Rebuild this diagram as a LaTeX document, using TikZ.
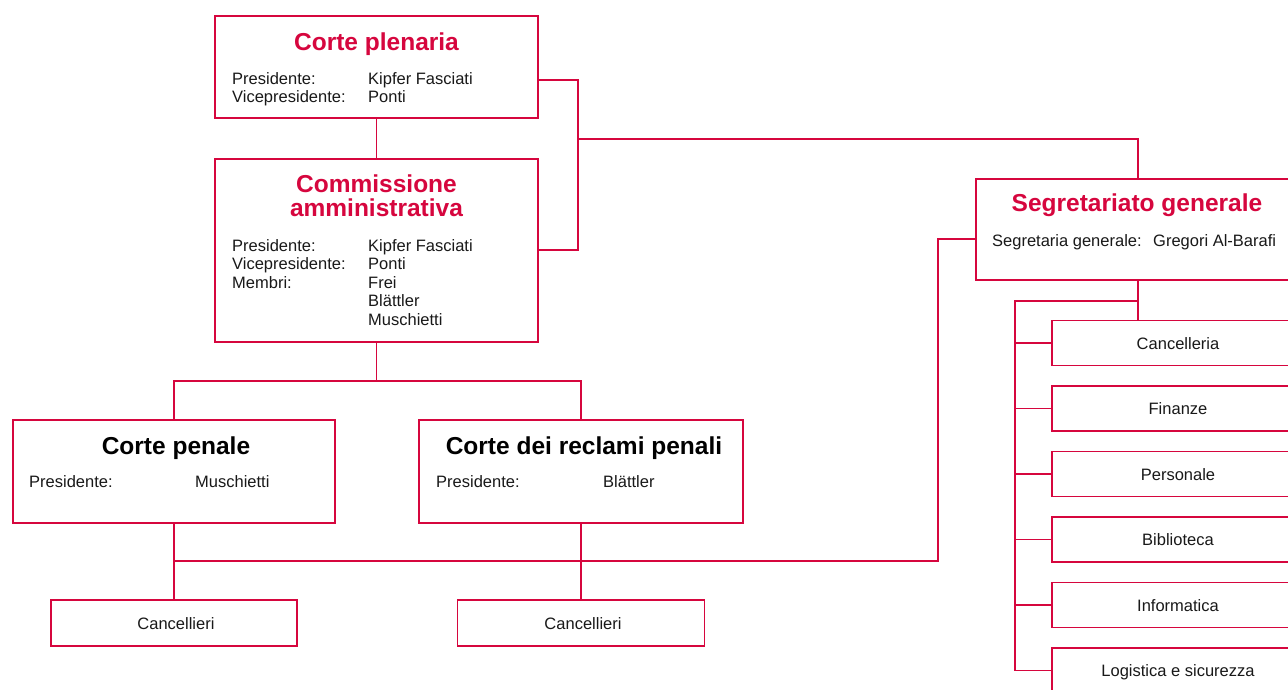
\documentclass[tikz,border=0pt]{standalone}
\usepackage{fontspec}
\setmainfont{Liberation Sans}
\definecolor{crim}{RGB}{214,6,62}
\definecolor{ink}{RGB}{25,25,25}
\begin{document}
\begin{tikzpicture}[x=1pt,y=-1pt,
  bigbox/.style={draw=crim,line width=2.6pt,rectangle,inner sep=0pt,fill=white},
  smallbox/.style={draw=crim,line width=1.5pt,rectangle,inner sep=0pt,fill=white},
  conn/.style={draw=crim,line width=1.2pt},
  ttl/.style={font=\fontsize{24.5}{26}\selectfont\bfseries,text=crim,anchor=base,inner sep=0pt},
  ttlk/.style={ttl,text=black},
  txt/.style={font=\fontsize{16.5}{18.5}\selectfont,anchor=base west,inner sep=0pt,text=ink},
  ctxt/.style={txt,anchor=base}]
\useasboundingbox (0,0) rectangle (1288,689);
\clip (0,0) rectangle (1288,689);

% ---------- boxes ----------
\node[bigbox,minimum width=323pt,minimum height=102pt] (plen) at (376.5,67) {};
\node[bigbox,minimum width=323pt,minimum height=183pt] (comm) at (376.5,250.5) {};
\node[bigbox,minimum width=322pt,minimum height=103pt] (pen) at (174,471.5) {};
\node[bigbox,minimum width=324pt,minimum height=103pt] (recl) at (581,471.5) {};
\node[smallbox,minimum width=246pt,minimum height=46pt] (canc1) at (174,623) {};
\node[smallbox,minimum width=247pt,minimum height=46pt] (canc2) at (581,623) {};
\node[bigbox,minimum width=324pt,minimum height=101pt] (segr) at (1138,229.5) {};
\foreach \n/\y in {s1/343,s2/408.5,s3/474,s4/539.5,s5/605,s6/670.5}
  \node[smallbox,minimum width=252pt,minimum height=45pt] (\n) at (1178,\y) {};

% ---------- texts ----------
\node[ttl] (plent) at (376.5,50) {Corte plenaria};
\node[txt] (plenl1) at (232,84) {Presidente:};
\node[txt] (plenv1) at (368,84) {Kipfer Fasciati};
\node[txt] (plenl2) at (232,102) {Vicepresidente:};
\node[txt] (plenv2) at (368,102) {Ponti};

\node[ttl] (commt1) at (376.5,192.5) {Commissione};
\node[ttl] (commt2) at (376.5,216.5) {amministrativa};
\node[txt] (comml1) at (232,251) {Presidente:};
\node[txt] (commv1) at (368,251) {Kipfer Fasciati};
\node[txt] (comml2) at (232,269.5) {Vicepresidente:};
\node[txt] (commv2) at (368,269.5) {Ponti};
\node[txt] (comml3) at (232,288) {Membri:};
\node[txt] (commv3) at (368,288) {Frei};
\node[txt] (commv4) at (368,306.5) {Blättler};
\node[txt] (commv5) at (368,325) {Muschietti};

\node[ttlk] (pent) at (176,454) {Corte penale};
\node[txt] (penl) at (29,487) {Presidente:};
\node[txt] (penv) at (195,487) {Muschietti};

\node[ttlk] (reclt) at (584,454) {Corte dei reclami penali};
\node[txt] (recll) at (436,487) {Presidente:};
\node[txt] (reclv) at (603,487) {Blättler};

\node[ctxt] (canc1t) at (176,629) {Cancellieri};
\node[ctxt] (canc2t) at (583,629) {Cancellieri};

\node[ttl] (segrt) at (1137,211.5) {Segretariato generale};
\node[txt] (segrl) at (992,246) {Segretaria generale:};
\node[txt] (segrv) at (1153,246) {Gregori Al-Barafi};

\node[ctxt] (s1t) at (1178,349) {Cancelleria};
\node[ctxt] (s2t) at (1178,414.5) {Finanze};
\node[ctxt] (s3t) at (1178,480) {Personale};
\node[ctxt] (s4t) at (1178,545.5) {Biblioteca};
\node[ctxt] (s5t) at (1178,611) {Informatica};
\node[ctxt] (s6t) at (1178,676.5) {Logistica e sicurezza};

% ---------- junctions ----------
\coordinate (j1) at (578,80);
\coordinate (j2) at (578,250);
\coordinate (j3) at (578,139);
\coordinate (j4) at (376.5,381);
\coordinate (j5) at (938,561);
\coordinate (j6) at (938,239);
\coordinate (j7) at (1015,301);

% ---------- connectors ----------
\draw[conn] (plen.south) -- (comm.north);
\draw[conn] (plen.east |- j1) -- (j1) -- (j2) -- (comm.east |- j2);
\draw[conn] (j3) -| (segr.north);
\draw[conn] (comm.south) -- (j4);
\draw[conn] (pen.north) -- (pen.north |- j4) -- (recl.north |- j4) -- (recl.north);
\draw[conn] (pen.south) -- (canc1.north);
\draw[conn] (recl.south) -- (canc2.north);
\draw[conn] (pen.south |- j5) -- (j5) -- (j6) -- (segr.west |- j6);
\draw[conn] (segr.south) -- (segr.south |- s1.north);
\draw[conn] (segr.south |- j7) -- (j7) -- (j7 |- s6.west);
\foreach \n in {s1,s2,s3,s4,s5,s6}
  \draw[conn] (j7 |- \n.west) -- (\n.west);
\end{tikzpicture}
\end{document}
